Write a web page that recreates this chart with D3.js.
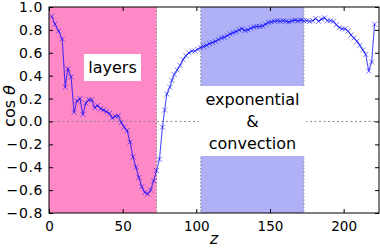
<!DOCTYPE html>
<html>
<head>
<meta charset="utf-8">
<script src="https://cdn.jsdelivr.net/npm/d3@7"></script>
<style>
  body { margin: 0; background: #fff; }
  text { font-family: "DejaVu Sans", sans-serif; }
</style>
</head>
<body>
<div class="canvas"></div>
<script>
// data
const zValues = [1.8, 4, 6.5, 9, 11, 12.8, 15, 17, 19, 21, 23, 25, 27, 29, 31, 33, 35, 37, 39, 41,
    43, 45, 47, 49, 51, 53, 55, 57, 59, 61, 63, 65, 67, 69, 71, 73, 75, 77, 78.5, 80,
    82, 83.5, 85, 87, 89, 91, 93, 95, 97, 99, 101, 103, 105, 107, 109, 111, 113, 115, 117, 119,
    121, 123, 125, 127, 129, 131, 133, 135, 137, 139, 141, 143, 145, 147, 149, 151, 153, 155, 157, 159,
    161, 163, 165, 167, 169, 171, 173, 175, 177, 179, 181, 183, 185, 187, 189, 191, 193, 195, 197, 199,
    201, 203, 205, 207, 209, 211, 213, 215, 217, 219, 221];
const cosValues = [0.92, 0.85, 0.79, 0.72, 0.30, 0.46, 0.39, 0.08, 0.18, 0.20, 0.06, 0.16, 0.19, 0.19, 0.12, 0.14, 0.11, 0.10, 0.085, 0.07,
    0.03, 0.045, 0.05, -0.01, -0.05, -0.08, -0.18, -0.31, -0.40, -0.49, -0.57, -0.62, -0.635, -0.60, -0.52, -0.43, -0.33, -0.05, 0.10, 0.24,
    0.30, 0.36, 0.41, 0.45, 0.49, 0.54, 0.575, 0.60, 0.615, 0.615, 0.63, 0.645, 0.655, 0.665, 0.68, 0.69, 0.70, 0.715, 0.73, 0.735,
    0.75, 0.765, 0.775, 0.785, 0.80, 0.81, 0.795, 0.80, 0.815, 0.825, 0.83, 0.83, 0.835, 0.85, 0.865, 0.87, 0.875, 0.88, 0.875, 0.88,
    0.875, 0.87, 0.88, 0.885, 0.88, 0.885, 0.88, 0.88, 0.875, 0.88, 0.90, 0.875, 0.895, 0.905, 0.88, 0.88, 0.875, 0.845, 0.82, 0.81,
    0.81, 0.79, 0.755, 0.73, 0.70, 0.665, 0.625, 0.585, 0.44, 0.52, 0.85];

const xTicks = [0, 50, 100, 150, 200];
const yTicks = [-0.8, -0.6, -0.4, -0.2, 0.0, 0.2, 0.4, 0.6, 0.8, 1.0];
const regions = [
    { from: 0, to: 73, color: '#ff89c6' },
    { from: 103, to: 173, color: '#b0b0f7' }
];
const boundaries = [73, 103, 173];

const dims = { width: 380, height: 248 };
const margin = { left: 49, top: 7, right: 1, bottom: 35 };
const inner = { w: dims.width - margin.left - margin.right, h: dims.height - margin.top - margin.bottom };

const svg = d3.select('.canvas')
    .append('svg')
    .attr('width', dims.width)
    .attr('height', dims.height);

const graph = svg.append('g')
    .attr('transform', `translate(${margin.left},${margin.top})`);

const x = d3.scaleLinear().domain([0, 224]).range([0, inner.w]);
const y = d3.scaleLinear().domain([-0.8, 1.0]).range([inner.h, 0]);

// shaded regions
graph.selectAll('rect.region')
    .data(regions)
    .enter().append('rect')
    .attr('class', 'region')
    .attr('x', d => x(d.from))
    .attr('y', 0)
    .attr('width', d => x(d.to) - x(d.from))
    .attr('height', inner.h)
    .attr('fill', d => d.color);

// dotted guides
graph.selectAll('line.vguide')
    .data(boundaries)
    .enter().append('line')
    .attr('class', 'vguide')
    .attr('x1', d => x(d)).attr('x2', d => x(d))
    .attr('y1', 0).attr('y2', inner.h)
    .attr('stroke', '#888').attr('stroke-width', 1)
    .attr('stroke-dasharray', '1.5,2');

graph.append('line')
    .attr('x1', 0).attr('x2', inner.w)
    .attr('y1', y(0)).attr('y2', y(0))
    .attr('stroke', '#888').attr('stroke-width', 1)
    .attr('stroke-dasharray', '2,2.5');

// text boxes
const boxes = [
    { lines: ['layers'], cx: 112.5, top: 54, w: 57, h: 27 },
    { lines: ['exponential', '&', 'convection'], cx: 252.5, top: 86, w: 107, h: 70 }
];
boxes.forEach(b => {
    svg.append('rect')
        .attr('x', b.cx - b.w / 2).attr('y', b.top)
        .attr('width', b.w).attr('height', b.h)
        .attr('fill', '#fff');
    b.lines.forEach((t, i) => {
        svg.append('text')
            .attr('x', b.cx)
            .attr('y', b.top + 19 + i * 22)
            .attr('text-anchor', 'middle')
            .attr('font-size', 16)
            .attr('fill', '#000')
            .text(t);
    });
});

// series
const data = zValues.map((z, i) => ({ z, v: cosValues[i] }));
const line = d3.line().x(d => x(d.z)).y(d => y(d.v));

graph.append('path')
    .datum(data)
    .attr('d', line)
    .attr('fill', 'none')
    .attr('stroke', '#0000ff')
    .attr('stroke-opacity', 0.7)
    .attr('stroke-width', 1.1);

const m = 2.5;
graph.selectAll('path.marker')
    .data(data)
    .enter().append('path')
    .attr('class', 'marker')
    .attr('d', d => {
        const px = x(d.z), py = y(d.v);
        return `M${px - m},${py - m}L${px + m},${py + m}M${px - m},${py + m}L${px + m},${py - m}`;
    })
    .attr('stroke', '#0000ff')
    .attr('stroke-opacity', 0.6)
    .attr('stroke-width', 0.9);

// axes (ticks inward, on all four sides)
const fmt = d => d3.format('.1f')(d).replace('-', '\u2212');
const xAxis = graph.append('g')
    .attr('transform', `translate(0,${inner.h})`)
    .call(d3.axisBottom(x).tickValues(xTicks).tickSize(-4).tickPadding(8).tickFormat(d3.format('d')));
const xTop = graph.append('g')
    .call(d3.axisTop(x).tickValues(xTicks).tickSize(-4).tickFormat(''));
const yAxis = graph.append('g')
    .call(d3.axisLeft(y).tickValues(yTicks).tickSize(-4).tickPadding(6).tickFormat(fmt));
const yRight = graph.append('g')
    .attr('transform', `translate(${inner.w},0)`)
    .call(d3.axisRight(y).tickValues(yTicks).tickSize(-4).tickFormat(''));

[xAxis, xTop, yAxis, yRight].forEach(a => {
    a.select('.domain').remove();
    a.selectAll('.tick line').attr('stroke', '#000');
    a.selectAll('text').attr('font-size', 13.5).attr('fill', '#000')
        .attr('font-family', '"DejaVu Sans", sans-serif');
});
yAxis.selectAll('text').attr('font-size', 14).attr('letter-spacing', 0.6);

graph.append('rect')
    .attr('width', inner.w).attr('height', inner.h)
    .attr('fill', 'none').attr('stroke', '#000').attr('stroke-width', 1);

// axis labels
svg.append('text')
    .attr('transform', 'translate(15,106) rotate(-90)')
    .attr('text-anchor', 'middle')
    .attr('font-size', 16)
    .html('cos<tspan font-style="italic"> θ</tspan>');

svg.append('text')
    .attr('x', margin.left + x(112))
    .attr('y', 244)
    .attr('text-anchor', 'middle')
    .attr('font-size', 16)
    .attr('font-style', 'italic')
    .text('z');
</script>
</body>
</html>
